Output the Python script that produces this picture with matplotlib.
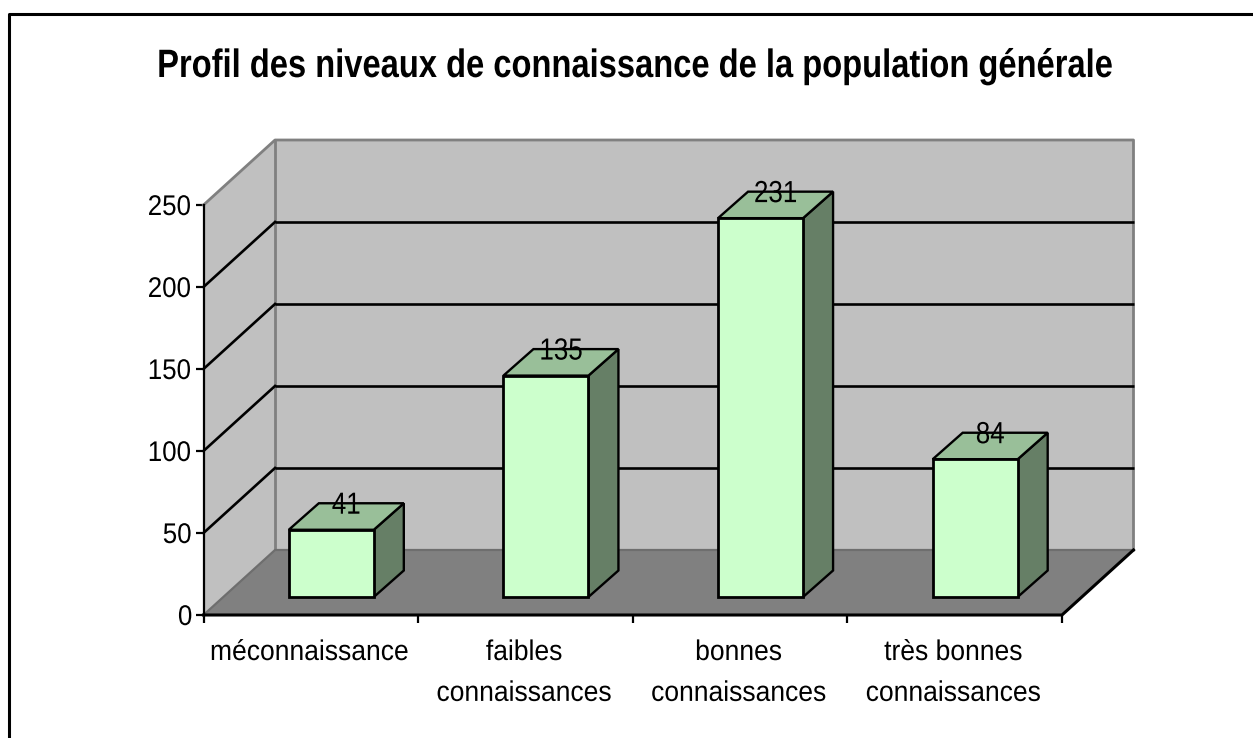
import matplotlib
matplotlib.use('Agg')
import matplotlib.pyplot as plt
from matplotlib.patches import Polygon
from matplotlib.patheffects import AbstractPathEffect
from matplotlib.transforms import Affine2D

categories = ['méconnaissance', 'faibles\nconnaissances', 'bonnes\nconnaissances', 'très bonnes\nconnaissances']
values = [41, 135, 231, 84]
yticks = [0, 50, 100, 150, 200, 250]

W, H = 1253, 738
plt.rcParams['font.family'] = ['Liberation Sans', 'DejaVu Sans']


# the reference text is narrower than Liberation at the same height
class Squeeze(AbstractPathEffect):
    def __init__(self, sx):
        super().__init__()
        self.sx = sx

    def draw_path(self, renderer, gc, tpath, affine, rgbFace=None):
        box = tpath.get_extents()
        c = (box.x0 + box.x1) / 2
        squeeze = Affine2D().translate(-c, 0).scale(self.sx, 1).translate(c, 0)
        renderer.draw_path(gc, tpath, squeeze + affine, rgbFace)


fig = plt.figure(figsize=(W / 100, H / 100), dpi=100)

# full figure axes for the outer frame and the title
bg = fig.add_axes([0, 0, 1, 1])
bg.set_xlim(0, W)
bg.set_ylim(H, 0)
bg.axis('off')
bg.plot([9, 9, W], [H, 14, 14], color='black', lw=2.2, solid_capstyle='butt')
bg.text(635, 66, 'Profil des niveaux de connaissance de la population générale',
        ha='center', va='center', fontsize=28.5, fontweight='bold', color='black',
        path_effects=[Squeeze(0.826)])

# front plane of the chart
left, right, top, bottom = 203.5, 1062, 205, 615
ax = fig.add_axes([left / W, 1 - bottom / H, (right - left) / W, (bottom - top) / H])
ax.set_xlim(0, len(values))
ax.set_ylim(0, 250)
ax.patch.set_visible(False)
for s in ax.spines.values():
    s.set_visible(False)

# depth expressed in data units
xu = (right - left) / len(values)
yu = (bottom - top) / 250
dx, dy = 71.5 / xu, 65 / yu          # whole floor
bar_w = 85 / xu
bar_dx, bar_dy = 30 / xu, 26.5 / yu  # bar depth
off_x, off_y = 20.5 / xu, 18 / yu    # bar offset from front edge
n = len(values)


def poly(pts, fc, ec='none', lw=0, z=1):
    ax.add_patch(Polygon(pts, closed=True, facecolor=fc, edgecolor=ec, linewidth=lw,
                         zorder=z, clip_on=False, joinstyle='miter'))


# walls and floor
poly([(0, 0), (dx, dy), (n + dx, dy), (n + dx, 250 + dy), (dx, 250 + dy), (0, 250)], '#c0c0c0')
poly([(0, 0), (n, 0), (n + dx, dy), (dx, dy)], '#808080')

wall = '#808080'
ax.plot([0, dx, n + dx, n + dx], [250, 250 + dy, 250 + dy, dy], color=wall, lw=2, clip_on=False, zorder=2)
ax.plot([dx, dx], [dy, 250 + dy], color=wall, lw=2, clip_on=False, zorder=2)
ax.plot([0, dx, n + dx], [0, dy, dy], color='#6e6e6e', lw=1.6, clip_on=False, zorder=2)

# grid lines, side wall then back wall
for t in yticks[1:-1]:
    ax.plot([0, dx], [t, t + dy], color='black', lw=1.9, clip_on=False, zorder=3)
    ax.plot([dx, n + dx], [t + dy, t + dy], color='black', lw=1.9, clip_on=False, zorder=3,
            solid_capstyle='butt')

# floor edges
ax.plot([0, n, n + dx], [0, 0, dy], color='black', lw=2.2, clip_on=False, zorder=3)
ax.plot([0, 0], [0, 250], color='black', lw=1.6, clip_on=False, zorder=3)

# bars
ec = 'black'
for i, v in enumerate(values):
    x0 = i + 0.5 - bar_w / 2 + off_x
    x1 = x0 + bar_w
    y0 = off_y
    y1 = y0 + v
    poly([(x1, y0), (x1 + bar_dx, y0 + bar_dy), (x1 + bar_dx, y1 + bar_dy), (x1, y1)], '#667f66', ec, 1.7, 4)
    poly([(x0, y1), (x1, y1), (x1 + bar_dx, y1 + bar_dy), (x0 + bar_dx, y1 + bar_dy)], '#99bf99', ec, 1.7, 4)
    poly([(x0, y0), (x1, y0), (x1, y1), (x0, y1)], '#ccffcc', ec, 2, 5)
    ax.text(x0 + (bar_w + bar_dx) / 2, y1 + bar_dy - 1.5, str(v), ha='center', va='center',
            fontsize=22, color='black', zorder=6, clip_on=False, path_effects=[Squeeze(0.85)])

ax.set_xticks(range(n + 1))
ax.set_xticklabels([])
ax.set_yticks(yticks)
ax.set_yticklabels([str(t) for t in yticks], fontsize=20.5, path_effects=[Squeeze(0.91)])
ax.tick_params(axis='y', length=6, width=1.6, pad=1.5)
ax.tick_params(axis='x', length=6, width=1.6)
for i, c in enumerate(categories):
    ax.annotate(c, (i + 0.5, 0), xytext=(-1, -18), textcoords='offset points', ha='center', va='top',
                fontsize=20.5, linespacing=1.745, annotation_clip=False, path_effects=[Squeeze(0.93)])

fig.savefig('out.png', dpi=100, facecolor='white')
